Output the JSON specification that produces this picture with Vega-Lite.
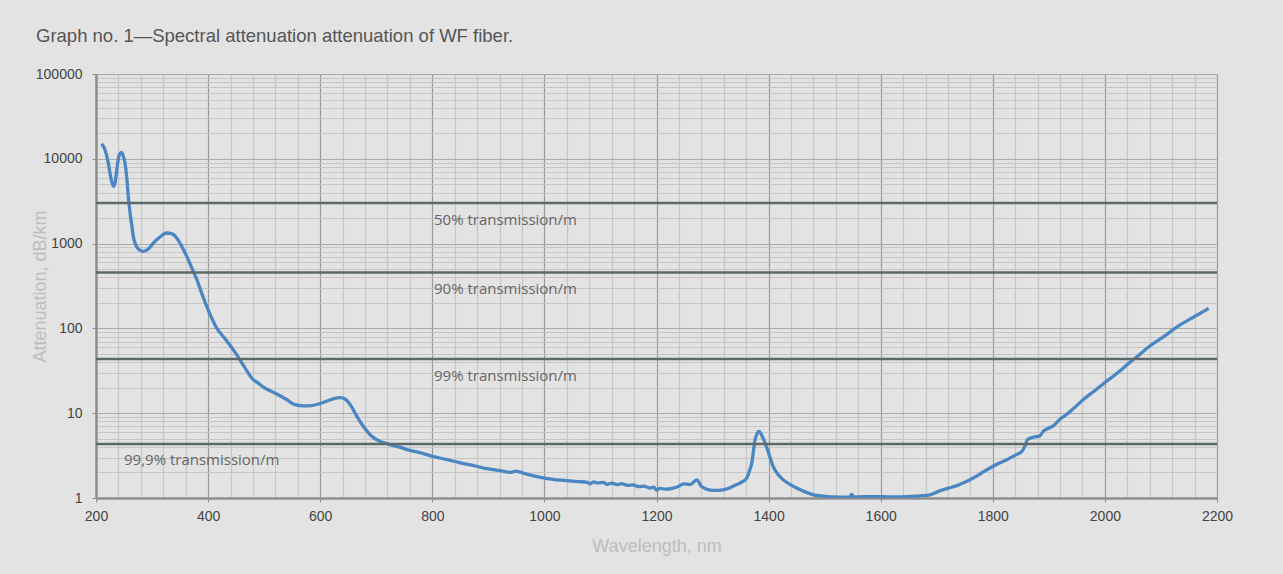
{
  "$schema": "https://vega.github.io/schema/vega-lite/v6.json",
  "width": 1121,
  "height": 424,
  "autosize": "none",
  "padding": {"left": 96, "top": 74, "right": 66, "bottom": 76},
  "background": "#e3e3e3",
  "title": {
    "text": "Graph no. 1—Spectral attenuation attenuation of WF fiber.",
    "anchor": "start",
    "frame": "group",
    "dx": -60,
    "dy": 24,
    "offset": 31,
    "baseline": "alphabetic",
    "font": "Liberation Sans",
    "fontSize": 18.5,
    "fontWeight": "normal",
    "color": "#555555"
  },
  "config": {
    "view": {"stroke": "#a8a8a8", "strokeWidth": 1}
  },
  "datasets": {
    "curve": [
      {"wl": 210, "att": 15000}, {"wl": 216, "att": 12800}, {"wl": 222, "att": 8900}, {"wl": 226, "att": 6200},
      {"wl": 231, "att": 4730}, {"wl": 234, "att": 5190}, {"wl": 237, "att": 7400}, {"wl": 241.6, "att": 11170},
      {"wl": 245.8, "att": 11900}, {"wl": 248.7, "att": 10670}, {"wl": 251.7, "att": 8900}, {"wl": 254.7, "att": 6200},
      {"wl": 257.6, "att": 3600}, {"wl": 260.7, "att": 2300}, {"wl": 263.7, "att": 1670}, {"wl": 266.5, "att": 1217},
      {"wl": 269.6, "att": 1016}, {"wl": 275.5, "att": 863}, {"wl": 284.4, "att": 809}, {"wl": 293.3, "att": 863},
      {"wl": 302.2, "att": 1016}, {"wl": 314.2, "att": 1196}, {"wl": 326, "att": 1334}, {"wl": 335, "att": 1310},
      {"wl": 344, "att": 1163}, {"wl": 353, "att": 927}, {"wl": 362, "att": 706}, {"wl": 371, "att": 515},
      {"wl": 380, "att": 375}, {"wl": 388.5, "att": 261}, {"wl": 397.5, "att": 182}, {"wl": 406.4, "att": 133},
      {"wl": 415.3, "att": 101}, {"wl": 430, "att": 76}, {"wl": 450, "att": 50}, {"wl": 465, "att": 35},
      {"wl": 480, "att": 25}, {"wl": 490, "att": 22.5}, {"wl": 500, "att": 20}, {"wl": 520, "att": 17.2},
      {"wl": 540, "att": 14.5}, {"wl": 555, "att": 12.6}, {"wl": 570, "att": 12.2}, {"wl": 585, "att": 12.3},
      {"wl": 600, "att": 13}, {"wl": 620, "att": 14.5}, {"wl": 635, "att": 15.3}, {"wl": 645, "att": 14.6},
      {"wl": 655, "att": 12.2}, {"wl": 665, "att": 9.3}, {"wl": 675, "att": 7.3}, {"wl": 690, "att": 5.5},
      {"wl": 705, "att": 4.7}, {"wl": 720, "att": 4.35}, {"wl": 740, "att": 4.0}, {"wl": 760, "att": 3.65},
      {"wl": 780, "att": 3.4}, {"wl": 800, "att": 3.1}, {"wl": 825, "att": 2.85}, {"wl": 850, "att": 2.6},
      {"wl": 875, "att": 2.4}, {"wl": 900, "att": 2.2}, {"wl": 925, "att": 2.08}, {"wl": 940, "att": 2.0},
      {"wl": 948, "att": 2.08}, {"wl": 955, "att": 2.03}, {"wl": 970, "att": 1.9}, {"wl": 1000, "att": 1.72},
      {"wl": 1030, "att": 1.62}, {"wl": 1060, "att": 1.56}, {"wl": 1075, "att": 1.54}, {"wl": 1082, "att": 1.47},
      {"wl": 1088, "att": 1.55}, {"wl": 1095, "att": 1.5}, {"wl": 1105, "att": 1.53}, {"wl": 1112, "att": 1.45},
      {"wl": 1120, "att": 1.5}, {"wl": 1130, "att": 1.44}, {"wl": 1138, "att": 1.48}, {"wl": 1148, "att": 1.41},
      {"wl": 1158, "att": 1.43}, {"wl": 1168, "att": 1.36}, {"wl": 1178, "att": 1.38}, {"wl": 1188, "att": 1.31},
      {"wl": 1195, "att": 1.34}, {"wl": 1200, "att": 1.24}, {"wl": 1206, "att": 1.3}, {"wl": 1215, "att": 1.27},
      {"wl": 1230, "att": 1.31}, {"wl": 1240, "att": 1.38}, {"wl": 1248, "att": 1.47}, {"wl": 1260, "att": 1.44},
      {"wl": 1272, "att": 1.64}, {"wl": 1280, "att": 1.37}, {"wl": 1290, "att": 1.27}, {"wl": 1301, "att": 1.23},
      {"wl": 1319, "att": 1.25}, {"wl": 1332, "att": 1.33}, {"wl": 1343, "att": 1.44}, {"wl": 1355, "att": 1.58},
      {"wl": 1361, "att": 1.72}, {"wl": 1366, "att": 2.1}, {"wl": 1370, "att": 2.6}, {"wl": 1376, "att": 4.9},
      {"wl": 1383, "att": 6.1}, {"wl": 1390, "att": 5.1}, {"wl": 1399, "att": 3.55}, {"wl": 1408, "att": 2.36},
      {"wl": 1418, "att": 1.85}, {"wl": 1426, "att": 1.64}, {"wl": 1438, "att": 1.45}, {"wl": 1450, "att": 1.31},
      {"wl": 1465, "att": 1.18}, {"wl": 1480, "att": 1.09}, {"wl": 1500, "att": 1.05}, {"wl": 1515, "att": 1.03},
      {"wl": 1545, "att": 1.02}, {"wl": 1548, "att": 1.1}, {"wl": 1552, "att": 1.03}, {"wl": 1590, "att": 1.04},
      {"wl": 1620, "att": 1.03}, {"wl": 1646, "att": 1.04}, {"wl": 1670, "att": 1.06}, {"wl": 1688, "att": 1.09},
      {"wl": 1706, "att": 1.22}, {"wl": 1720, "att": 1.3}, {"wl": 1736, "att": 1.4}, {"wl": 1750, "att": 1.53},
      {"wl": 1765, "att": 1.72}, {"wl": 1780, "att": 1.97}, {"wl": 1795, "att": 2.26}, {"wl": 1810, "att": 2.55},
      {"wl": 1825, "att": 2.83}, {"wl": 1840, "att": 3.2}, {"wl": 1852, "att": 3.55}, {"wl": 1858, "att": 4.2},
      {"wl": 1862, "att": 4.9}, {"wl": 1872, "att": 5.2}, {"wl": 1884, "att": 5.4}, {"wl": 1890, "att": 6.1},
      {"wl": 1896, "att": 6.5}, {"wl": 1908, "att": 7.1}, {"wl": 1920, "att": 8.5}, {"wl": 1932, "att": 9.7},
      {"wl": 1945, "att": 11.5}, {"wl": 1961, "att": 14.4}, {"wl": 1980, "att": 18}, {"wl": 2000, "att": 23},
      {"wl": 2020, "att": 29}, {"wl": 2045, "att": 40}, {"wl": 2060, "att": 48}, {"wl": 2080, "att": 62},
      {"wl": 2105, "att": 80}, {"wl": 2134, "att": 110}, {"wl": 2160, "att": 138}, {"wl": 2185, "att": 172}
    ],
    "levels": [
      {"level": 3010.3, "label": "50% transmission/m"},
      {"level": 457.6, "label": "90% transmission/m"},
      {"level": 43.65, "label": "99% transmission/m"},
      {"level": 4.345, "label": "99,9% transmission/m"}
    ]
  },
  "layer": [
    {
      "data": {"name": "curve"},
      "mark": {"type": "line", "color": "#4a87c2", "strokeWidth": 3.3, "interpolate": "monotone", "clip": true},
      "encoding": {
        "x": {
          "field": "wl", "type": "quantitative",
          "scale": {"domain": [200, 2200], "nice": false, "zero": false},
          "axis": {
            "values": [200,240,280,320,360,400,440,480,520,560,600,640,680,720,760,800,840,880,920,960,1000,1040,1080,1120,1160,1200,1240,1280,1320,1360,1400,1440,1480,1520,1560,1600,1640,1680,1720,1760,1800,1840,1880,1920,1960,2000,2040,2080,2120,2160,2200],
            "tickCount": 200,
            "format": "d",
            "labelExpr": "datum.value % 200 === 0 ? datum.label : ''",
            "labelOverlap": false,
            "labelBound": false,
            "labelFlush": false,
            "labelFont": "Liberation Sans",
            "labelFontSize": 14,
            "labelColor": "#444444",
            "labelPadding": 7,
            "tickSize": 4,
            "tickColor": "#8a8a8a",
            "tickOpacity": {"condition": {"test": "datum.value % 200 === 0", "value": 1}, "value": 0},
            "domainColor": "#8f8f8f",
            "domainWidth": 2.5,
            "grid": true,
            "gridColor": {"condition": {"test": "datum.value % 200 === 0", "value": "#9a9a9a"}, "value": "#c6c6c6"},
            "gridWidth": 1.2,
            "title": "Wavelength, nm",
            "titleFont": "Liberation Sans",
            "titleFontSize": 18,
            "titleFontWeight": "normal",
            "titleColor": "#bdbdbd",
            "titleY": 48,
            "titleBaseline": "middle"
          }
        },
        "y": {
          "field": "att", "type": "quantitative",
          "scale": {"type": "log", "domain": [1, 100000], "nice": false},
          "axis": {
            "values": [1,2,3,4,5,6,7,8,9,10,20,30,40,50,60,70,80,90,100,200,300,400,500,600,700,800,900,1000,2000,3000,4000,5000,6000,7000,8000,9000,10000,20000,30000,40000,50000,60000,70000,80000,90000,100000],
            "tickCount": 200,
            "labelExpr": "indexof([1,10,100,1000,10000,100000], datum.value) >= 0 ? format(datum.value, 'd') : ''",
            "labelOverlap": false,
            "labelBound": false,
            "labelFlush": false,
            "labelFont": "Liberation Sans",
            "labelFontSize": 14,
            "labelColor": "#444444",
            "labelPadding": 10,
            "tickSize": 4,
            "tickColor": "#8a8a8a",
            "tickOpacity": {"condition": {"test": "indexof([1,10,100,1000,10000,100000], datum.value) >= 0", "value": 1}, "value": 0},
            "domainColor": "#8f8f8f",
            "domainWidth": 2.5,
            "grid": true,
            "gridColor": {"condition": {"test": "indexof([1,10,100,1000,10000,100000], datum.value) >= 0", "value": "#aaaaaa"}, "value": "#c6c6c6"},
            "gridWidth": 1.2,
            "title": "Attenuation, dB/km",
            "titleFont": "Liberation Sans",
            "titleFontSize": 18,
            "titleFontWeight": "normal",
            "titleColor": "#bdbdbd",
            "titleX": -56,
            "titleY": 212,
            "titleAngle": -90,
            "titleAlign": "center",
            "titleBaseline": "middle"
          }
        }
      }
    },
    {
      "data": {"name": "levels"},
      "mark": {"type": "rule", "color": "#5e6868", "strokeWidth": 2.5},
      "encoding": {
        "y": {"field": "level", "type": "quantitative", "title": "Attenuation, dB/km"}
      }
    },
    {
      "data": {"name": "levels"},
      "transform": [{"filter": "datum.level > 10"}],
      "mark": {"type": "text", "align": "left", "baseline": "middle", "dy": 17, "font": "Open Sans", "fontSize": 15, "color": "#666666"},
      "encoding": {
        "x": {"datum": 803, "type": "quantitative"},
        "y": {"field": "level", "type": "quantitative", "title": "Attenuation, dB/km"},
        "text": {"field": "label"}
      }
    },
    {
      "data": {"name": "levels"},
      "transform": [{"filter": "datum.level < 10"}],
      "mark": {"type": "text", "align": "left", "baseline": "middle", "dy": 16, "font": "Open Sans", "fontSize": 15, "color": "#666666"},
      "encoding": {
        "x": {"datum": 250, "type": "quantitative"},
        "y": {"field": "level", "type": "quantitative", "title": "Attenuation, dB/km"},
        "text": {"field": "label"}
      }
    }
  ]
}
